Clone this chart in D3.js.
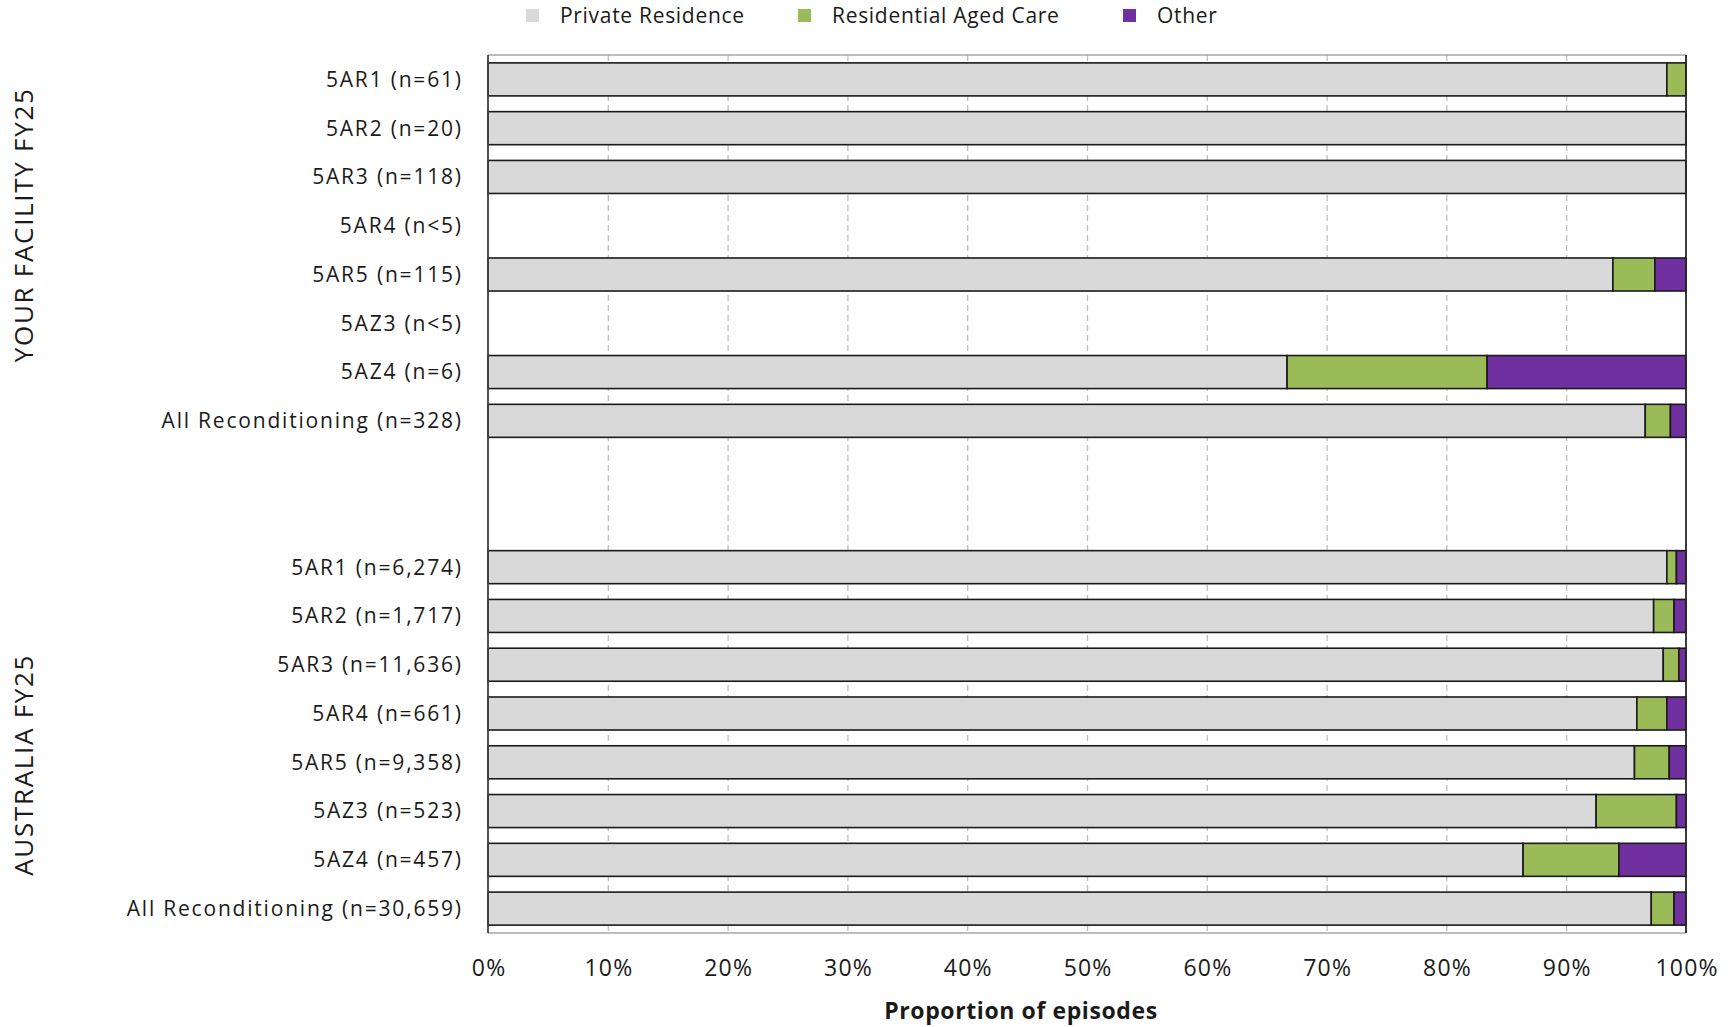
<!DOCTYPE html>
<html>
<head>
<meta charset="utf-8">
<script src="https://cdn.jsdelivr.net/npm/d3@7"></script>
<style>
  html, body { margin: 0; padding: 0; background: #ffffff; }
  svg { display: block; }
  text { font-family: "Open Sans", "Lato", sans-serif; fill: #1a1a1a; }
</style>
</head>
<body>
<svg id="chart" width="1734" height="1027"></svg>
<script>
// ---------------- DATA ----------------
const seriesNames = ["Private Residence", "Residential Aged Care", "Other"];
const seriesColors = ["#d9d9d9", "#9bbb59", "#7030a0"];

const groupNames = ["YOUR FACILITY FY25", "AUSTRALIA FY25"];

const facilityLabels = ["5AR1 (n=61)", "5AR2 (n=20)", "5AR3 (n=118)", "5AR4 (n<5)", "5AR5 (n=115)", "5AZ3 (n<5)", "5AZ4 (n=6)", "All Reconditioning (n=328)"];
const facilityPrivate = [98.4, 100, 100, null, 93.9, null, 66.7, 96.6];
const facilityAgedCare = [1.6, 0, 0, null, 3.5, null, 16.7, 2.1];
const facilityOther = [0, 0, 0, null, 2.6, null, 16.6, 1.3];

const australiaLabels = ["5AR1 (n=6,274)", "5AR2 (n=1,717)", "5AR3 (n=11,636)", "5AR4 (n=661)", "5AR5 (n=9,358)", "5AZ3 (n=523)", "5AZ4 (n=457)", "All Reconditioning (n=30,659)"];
const australiaPrivate = [98.4, 97.3, 98.1, 95.9, 95.7, 92.5, 86.4, 97.1];
const australiaAgedCare = [0.8, 1.7, 1.3, 2.5, 2.9, 6.7, 8.0, 1.9];
const australiaOther = [0.8, 1.0, 0.6, 1.6, 1.4, 0.8, 5.6, 1.0];

const xTickValues = [0, 10, 20, 30, 40, 50, 60, 70, 80, 90, 100];
const xAxisTitle = "Proportion of episodes";

(function () {
// ---------------- BUILD ROWS ----------------
const rows = [];
facilityLabels.forEach((lab, i) => rows.push({ id: "f" + i, label: lab, vals: [facilityPrivate[i], facilityAgedCare[i], facilityOther[i]] }));
rows.push({ id: "gap0", label: "", vals: [null, null, null] });
rows.push({ id: "gap1", label: "", vals: [null, null, null] });
australiaLabels.forEach((lab, i) => rows.push({ id: "a" + i, label: lab, vals: [australiaPrivate[i], australiaAgedCare[i], australiaOther[i]] }));

// ---------------- LAYOUT ----------------
const pLeft = 488, pRight = 1686, pTop = 55, pBottom = 933;
const svg = d3.select("#chart");

const x = d3.scaleLinear().domain([0, 100]).range([pLeft, pRight]);
const y = d3.scaleBand().domain(rows.map(r => r.id)).range([pTop, pBottom]).paddingInner(0.323).paddingOuter(0.1615);

// gridlines
const grid = svg.append("g")
  .attr("transform", `translate(0,${pTop})`)
  .call(d3.axisBottom(x).tickValues(xTickValues.filter(v => v > 0 && v < 100)).tickSize(pBottom - pTop).tickFormat(""));
grid.select(".domain").remove();
grid.selectAll("line").attr("stroke", "#bfbfbf").attr("stroke-width", 1.3).attr("stroke-dasharray", "6,4");

// frame
svg.append("line").attr("x1", pLeft).attr("x2", pRight).attr("y1", pTop).attr("y2", pTop).attr("stroke", "#a6a6a6").attr("stroke-width", 1.5);
svg.append("line").attr("x1", pLeft).attr("x2", pRight).attr("y1", pBottom).attr("y2", pBottom).attr("stroke", "#a6a6a6").attr("stroke-width", 1.5);

// stacked bars
const stackData = rows.map(r => {
  const o = { id: r.id, has: r.vals[0] !== null };
  seriesNames.forEach((s, k) => o[s] = r.vals[k] === null ? 0 : r.vals[k]);
  return o;
});
const stacked = d3.stack().keys(seriesNames)(stackData);

stacked.forEach((layer, k) => {
  svg.append("g")
    .selectAll("rect")
    .data(layer.filter(d => d.data.has && d[1] - d[0] > 0))
    .join("rect")
    .attr("x", d => x(d[0]))
    .attr("width", d => x(d[1]) - x(d[0]))
    .attr("y", d => y(d.data.id))
    .attr("height", y.bandwidth())
    .attr("fill", seriesColors[k])
    .attr("stroke", "#1a1a1a")
    .attr("stroke-width", 1.6);
});

// side borders
svg.append("line").attr("x1", pLeft).attr("x2", pLeft).attr("y1", pTop).attr("y2", pBottom).attr("stroke", "#404040").attr("stroke-width", 1.8);
svg.append("line").attr("x1", pRight).attr("x2", pRight).attr("y1", pTop).attr("y2", pBottom).attr("stroke", "#262626").attr("stroke-width", 1.8);

// category labels
svg.append("g")
  .selectAll("text")
  .data(rows.filter(r => r.label))
  .join("text")
  .attr("x", pLeft - 27 + 1.8)
  .attr("y", r => y(r.id) + y.bandwidth() / 2)
  .attr("dy", "0.35em")
  .attr("text-anchor", "end")
  .attr("font-size", 21)
  .attr("letter-spacing", 1.8)
  .text(r => r.label);

// group labels
const groupCenters = [224, 764];
groupNames.forEach((g, i) => {
  svg.append("text")
    .attr("transform", `translate(24,${groupCenters[i] + 0.85}) rotate(-90)`)
    .attr("text-anchor", "middle")
    .attr("dy", "0.35em")
    .attr("font-size", 26)
    .attr("letter-spacing", 1.7)
    .text(g);
});

// x axis labels
const xAxis = svg.append("g")
  .attr("transform", `translate(0,${pBottom})`)
  .call(d3.axisBottom(x).tickValues(xTickValues).tickSize(0).tickPadding(0).tickFormat(d => d + "%"));
xAxis.select(".domain").remove();
xAxis.selectAll("text")
  .attr("x", 0.6)
  .attr("y", 35)
  .attr("dy", "0.35em")
  .attr("font-size", 23)
  .attr("letter-spacing", 1.2)
  .style("font-family", "'Open Sans', sans-serif")
  .attr("fill", "#1a1a1a");

svg.append("text")
  .attr("x", 1021)
  .attr("y", 1011)
  .attr("dy", "0.35em")
  .attr("text-anchor", "middle")
  .attr("font-size", 23)
  .attr("font-weight", "bold")
  .attr("letter-spacing", 0.6)
  .text(xAxisTitle);

// legend
const legendX = [526, 798, 1123];
const legend = svg.append("g");
seriesNames.forEach((s, k) => {
  legend.append("rect").attr("x", legendX[k]).attr("y", 9).attr("width", 13).attr("height", 13).attr("fill", seriesColors[k]);
  legend.append("text").attr("x", legendX[k] + 34).attr("y", 15.5).attr("dy", "0.35em").attr("font-size", 21).attr("letter-spacing", 0.7).text(s);
});
})();
</script>
</body>
</html>
